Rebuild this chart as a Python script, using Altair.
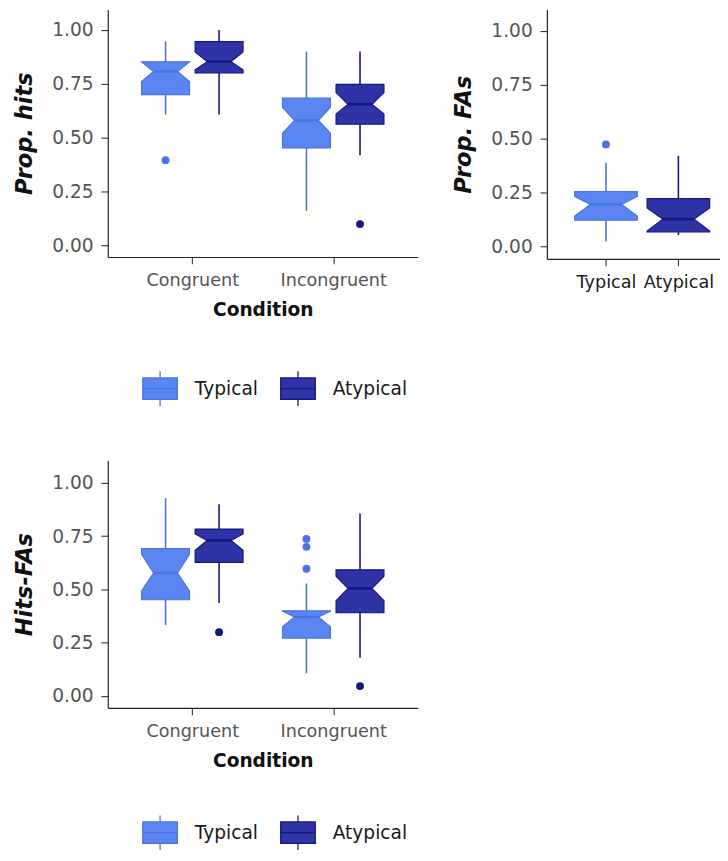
import json
import altair as alt
import pandas as pd

# ---------------- data ----------------
conditions = ["Congruent", "Incongruent"]
groups = ["Typical", "Atypical"]

# boxes: Congruent-Typical, Congruent-Atypical, Incongruent-Typical, Incongruent-Atypical
box_condition = ["Congruent", "Congruent", "Incongruent", "Incongruent"]
box_group = ["Typical", "Atypical", "Typical", "Atypical"]

hits_whisker_low = [0.607, 0.607, 0.159, 0.418]
hits_q1 = [0.700, 0.800, 0.452, 0.562]
hits_notch_low = [0.760, 0.815, 0.520, 0.610]
hits_median = [0.807, 0.853, 0.580, 0.655]
hits_notch_high = [0.852, 0.898, 0.641, 0.709]
hits_q3 = [0.852, 0.946, 0.683, 0.747]
hits_whisker_high = [0.947, 1.000, 0.900, 0.900]
hits_out_condition = ["Congruent", "Incongruent"]
hits_out_group = ["Typical", "Atypical"]
hits_out_value = [0.395, 0.098]

fa_group = ["Typical", "Atypical"]
fa_whisker_low = [0.023, 0.053]
fa_q1 = [0.122, 0.068]
fa_notch_low = [0.141, 0.072]
fa_median = [0.195, 0.127]
fa_notch_high = [0.232, 0.179]
fa_q3 = [0.255, 0.222]
fa_whisker_high = [0.389, 0.421]
fa_out_group = ["Typical"]
fa_out_value = [0.474]

diff_whisker_low = [0.333, 0.437, 0.107, 0.180]
diff_q1 = [0.452, 0.627, 0.272, 0.391]
diff_notch_low = [0.493, 0.684, 0.325, 0.447]
diff_median = [0.577, 0.730, 0.371, 0.505]
diff_notch_high = [0.665, 0.760, 0.398, 0.562]
diff_q3 = [0.692, 0.783, 0.400, 0.592]
diff_whisker_high = [0.928, 0.900, 0.528, 0.856]
diff_out_condition = ["Congruent", "Incongruent", "Incongruent", "Incongruent", "Incongruent"]
diff_out_group = ["Atypical", "Typical", "Typical", "Typical", "Atypical"]
diff_out_value = [0.300, 0.737, 0.700, 0.597, 0.047]

# ---------------- styling ----------------
fill_colors = ["#5B86F2", "#2E33A5"]
line_colors = ["#4B72E4", "#16167F"]
FONT = "DejaVu Sans"
LEG_SYMBOL = "M-1,-0.62H1V0.62H-1Z M-1,0H1 M0,-0.62V-1 M0,0.62V1"


def centre(cond, grp, dodge, cats):
    ci = cats.index(cond) if cats else 0
    gi = groups.index(grp)
    return ci + (gi - 0.5) * 2 * dodge


def frames(conds, grps, wlo, q1, nlo, med, nhi, q3, whi, oc, og, ov, cats, dodge, half):
    area, whisk, meds, outs = [], [], [], []
    for i, g in enumerate(grps):
        c = conds[i] if conds else None
        x0 = centre(c, g, dodge, cats)
        xl, xr = x0 - half, x0 + half
        ind = half * 0.5
        bid = f"{c}-{g}"
        lo_n = max(nlo[i], q1[i])
        hi_n = min(nhi[i], q3[i])
        for yy, a, b in [(q1[i], xl, xr), (lo_n, xl, xr), (med[i], xl + ind, xr - ind),
                         (hi_n, xl, xr), (q3[i], xl, xr)]:
            area.append({"id": bid, "group": g, "y": yy, "x": a, "x2": b})
        whisk.append({"group": g, "x": x0, "y": wlo[i], "y2": q1[i]})
        whisk.append({"group": g, "x": x0, "y": q3[i], "y2": whi[i]})
        meds.append({"group": g, "x": xl + ind, "x2": xr - ind, "y": med[i]})
    for j, v in enumerate(ov):
        c = oc[j] if oc else None
        outs.append({"group": og[j], "x": centre(c, og[j], dodge, cats), "y": v})
    return (pd.DataFrame(area), pd.DataFrame(whisk), pd.DataFrame(meds), pd.DataFrame(outs))


def panel(dfs, xdomain, ydomain, width, height, xaxis, ytitle, legend):
    area_df, whisk_df, med_df, out_df = dfs
    xs = alt.Scale(domain=xdomain, nice=False, zero=False)
    ys = alt.Scale(domain=ydomain, nice=False, zero=False)
    yaxis = alt.Axis(title=ytitle, values=[0, 0.25, 0.5, 0.75, 1.0], format=".2f",
                     titleFontStyle="italic", titleFontWeight="bold", titleFontSize=23,
                     titleColor="#111111", titlePadding=16, labelFontSize=19, labelPadding=8)
    X = alt.X("x:Q", scale=xs, axis=xaxis)
    Y = alt.Y("y:Q", scale=ys, axis=yaxis)
    fill_sc = alt.Scale(domain=groups, range=fill_colors)
    line_sc = alt.Scale(domain=groups, range=line_colors)
    area = alt.Chart(area_df).mark_area(orient="horizontal", strokeWidth=1.2, opacity=1,
                                        interpolate="linear").encode(
        x=X, x2="x2:Q", y=Y, detail="id:N",
        fill=alt.Fill("group:N", scale=fill_sc, legend=legend),
        stroke=alt.Stroke("group:N", scale=line_sc, legend=legend))
    whisk = alt.Chart(whisk_df).mark_rule(strokeWidth=1.6).encode(
        x=X, y=Y, y2="y2:Q", color=alt.Color("group:N", scale=line_sc, legend=None))
    med = alt.Chart(med_df).mark_rule(strokeWidth=2.6).encode(
        x=X, x2="x2:Q", y=Y, color=alt.Color("group:N", scale=line_sc, legend=None))
    layers = [area, whisk, med]
    if len(out_df):
        pts = alt.Chart(out_df).mark_circle(size=65, opacity=1).encode(
            x=X, y=Y, color=alt.Color("group:N", scale=line_sc, legend=None))
        layers.append(pts)
    return alt.layer(*layers).properties(width=width, height=height)


def legend_at(ly):
    return alt.Legend(orient="none", legendX=35, legendY=ly, direction="horizontal", title=None,
                      symbolType=LEG_SYMBOL, symbolSize=1250, symbolStrokeWidth=1.3,
                      labelFontSize=19, labelColor="#1a1a1a", labelFont=FONT,
                      labelOffset=17, columnPadding=20)


cond_axis = alt.Axis(title="Condition", values=[0, 1],
                     labelExpr=f"{json.dumps(conditions)}[datum.value]",
                     titleFontWeight="bold", titleFontSize=19, titleColor="#111111",
                     labelFontSize=18, labelPadding=8, titlePadding=12)

DODGE = 0.19
HALF = 0.17
hits = frames(box_condition, box_group, hits_whisker_low, hits_q1, hits_notch_low, hits_median,
              hits_notch_high, hits_q3, hits_whisker_high, hits_out_condition, hits_out_group,
              hits_out_value, conditions, DODGE, HALF)
diff = frames(box_condition, box_group, diff_whisker_low, diff_q1, diff_notch_low, diff_median,
              diff_notch_high, diff_q3, diff_whisker_high, diff_out_condition, diff_out_group,
              diff_out_value, conditions, DODGE, HALF)
FA_DODGE = 0.228
FA_HALF = 0.197
fas = frames(None, fa_group, fa_whisker_low, fa_q1, fa_notch_low, fa_median, fa_notch_high,
             fa_q3, fa_whisker_high, None, fa_out_group, fa_out_value, None, FA_DODGE, FA_HALF)

fa_ticks = [centre(None, g, FA_DODGE, None) for g in groups]
fa_axis = alt.Axis(title=None, values=fa_ticks,
                   labelExpr=f"datum.value < 0 ? {json.dumps(groups[0])} : {json.dumps(groups[1])}",
                   labelFontSize=18, labelPadding=8, labelColor="#1a1a1a")

A = panel(hits, [-0.6, 1.6], [-0.055, 1.095], 317, 253, cond_axis, "Prop. hits", legend_at(369))
B = panel(fas, [-0.6, 0.49], [-0.058, 1.1], 177, 255, fa_axis, "Prop. FAs", None)
C = panel(diff, [-0.6, 1.6], [-0.055, 1.105], 317, 253, cond_axis, "Hits-FAs", legend_at(362))

top = alt.hconcat(A, B, spacing=35).resolve_scale(
    x="independent", y="independent", fill="independent", stroke="independent", color="independent")
chart = alt.vconcat(top, C, spacing=53).resolve_scale(
    x="independent", y="independent", fill="independent", stroke="independent", color="independent"
).configure(
    padding={"left": 5, "top": -8, "right": 0, "bottom": 0}, font=FONT
).configure_view(stroke=None).configure_axis(
    grid=False, domainColor="#222222", domainWidth=1.2, tickColor="#333333", tickSize=7,
    tickWidth=1.1, labelColor="#555555", labelFont=FONT, titleFont=FONT
)

chart.save("out.html", embed_options={"renderer": "svg", "actions": False})
